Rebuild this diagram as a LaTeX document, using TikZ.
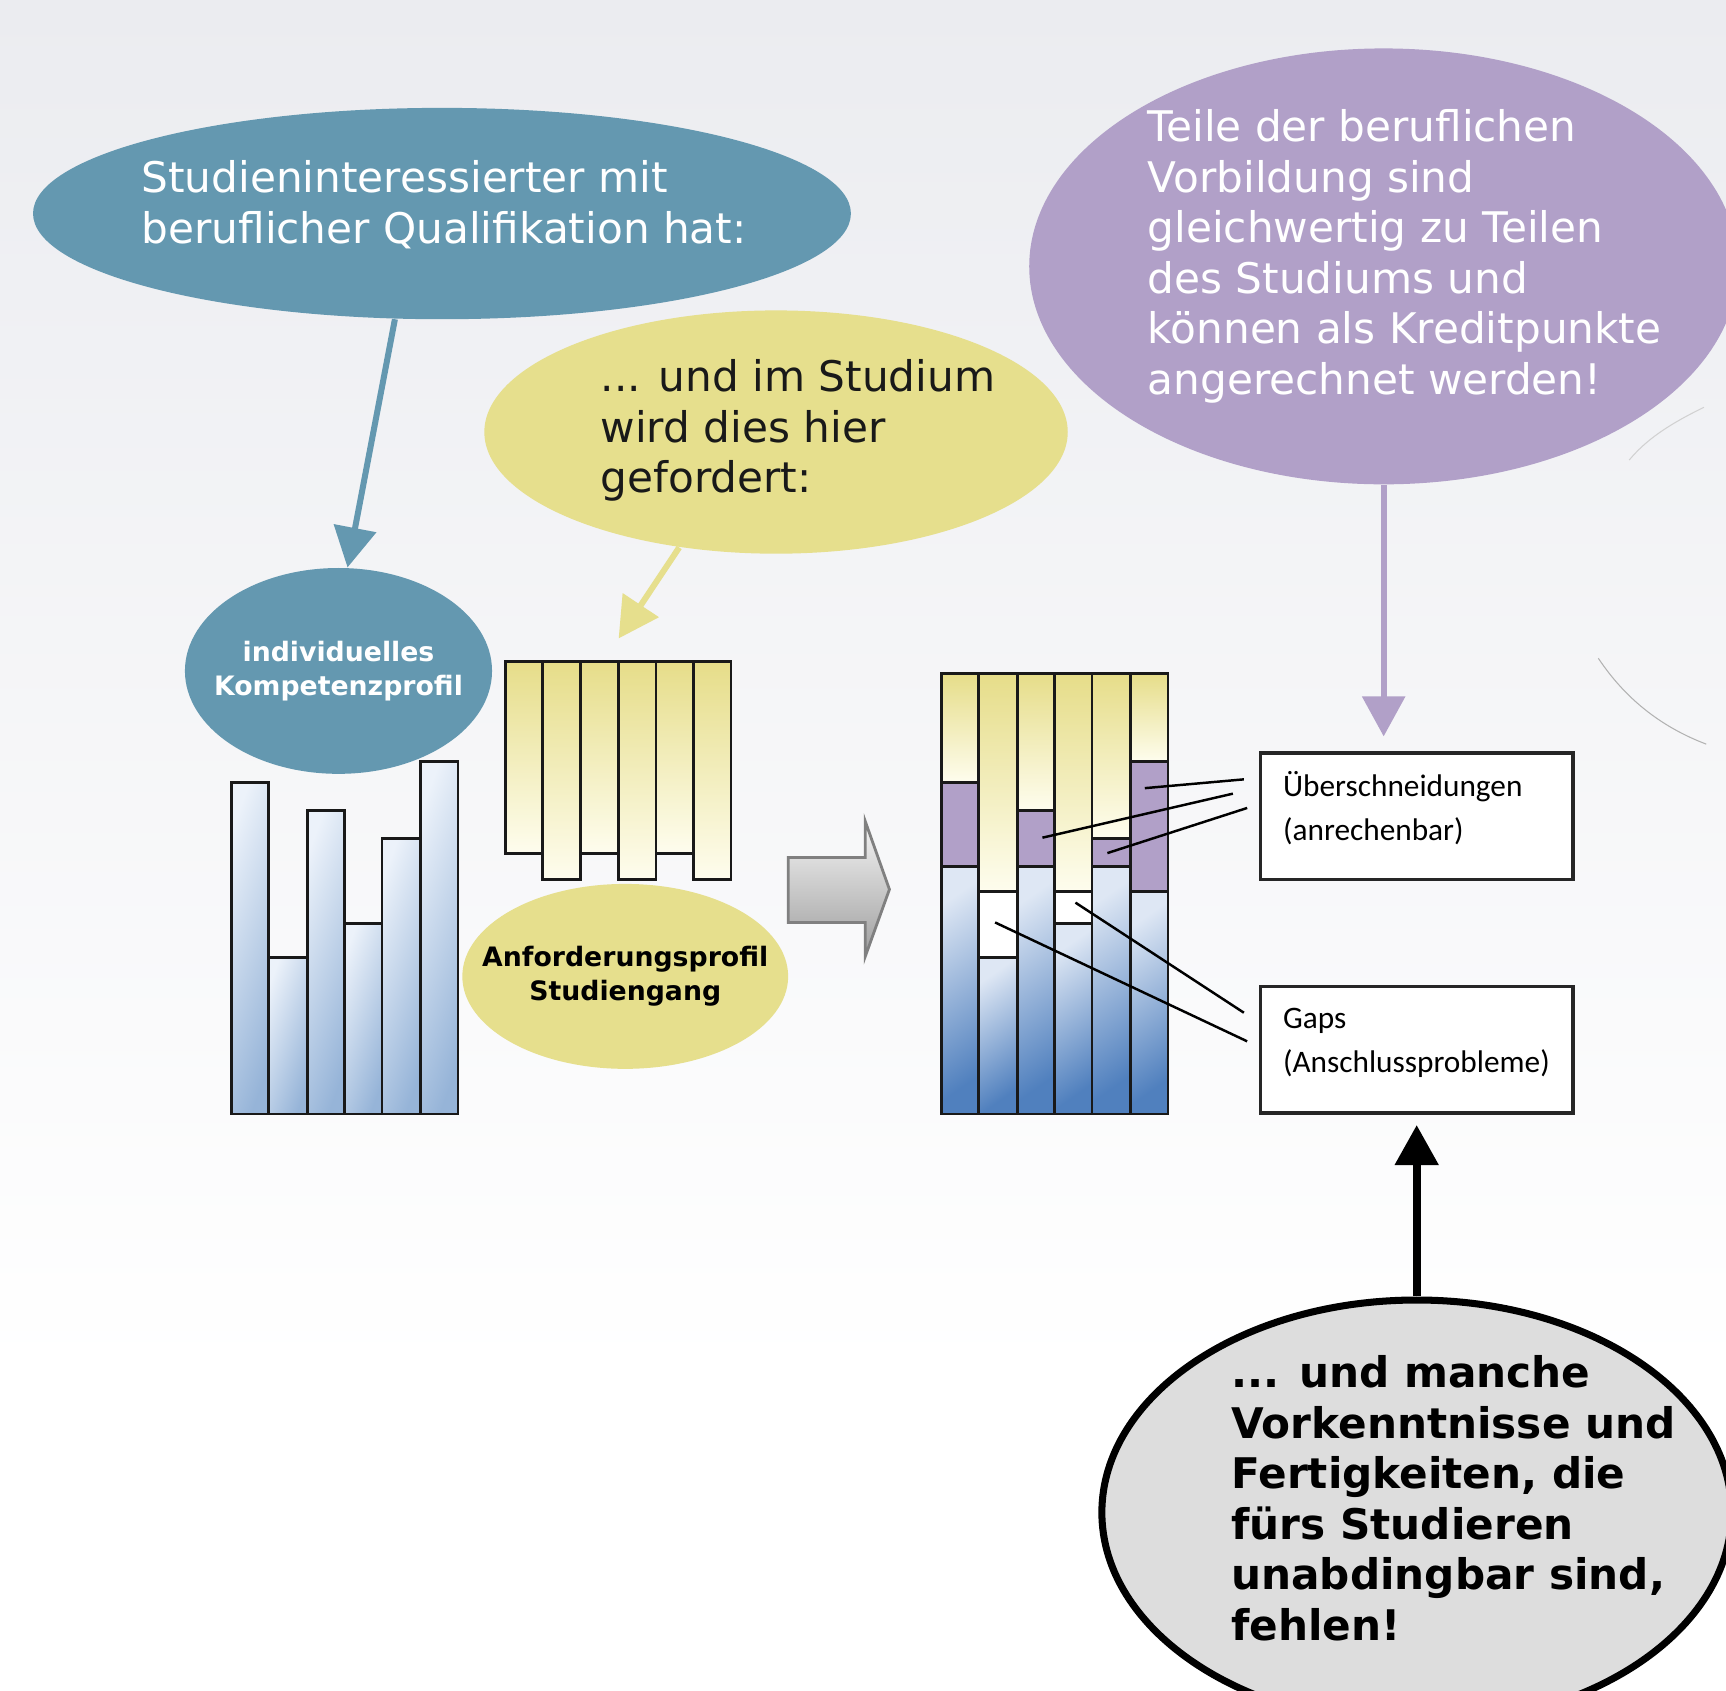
\documentclass[tikz,border=0pt]{standalone}
\usepackage{fontspec}
\setmainfont{DejaVu Sans}
\newfontfamily\carlito{Carlito}
\usetikzlibrary{shapes.geometric,arrows.meta,positioning}
\pgfdeclarelayer{bglayer}
\pgfdeclarelayer{edgelayer}
\pgfdeclarelayer{nodelayer}
\pgfsetlayers{bglayer,edgelayer,nodelayer,main}
\newcommand{\pxu}{0.011008cm}
\definecolor{qblue}{RGB}{100,152,176}
\definecolor{qyellow}{RGB}{230,223,141}
\definecolor{qpurple}{RGB}{177,160,200}
\definecolor{qgray}{RGB}{221,221,221}
\definecolor{bartop}{RGB}{230,221,137}
\definecolor{barlow}{RGB}{254,253,238}
\definecolor{blight}{RGB}{236,242,250}
\definecolor{bmid}{RGB}{150,180,216}
\definecolor{bpale}{RGB}{222,231,244}
\definecolor{bdark}{RGB}{80,128,190}
\tikzstyle{none}=[inner sep=0pt]
\tikzstyle{blob}=[ellipse,inner sep=0pt]
\tikzstyle{bigtxt}=[inner sep=0pt,align=left,font=\fontsize{12}{14.35}\selectfont]
\tikzstyle{boldtxt}=[inner sep=0pt,align=center,font=\fontsize{7.6}{9.7}\selectfont\bfseries]
\tikzstyle{boxtxt}=[inner sep=0pt,align=left,font=\carlito\fontsize{8.9}{12.5}\selectfont]
\tikzstyle{labelbox}=[draw=black!85,fill=white,line width=1pt,inner sep=0pt,minimum width=284*\pxu,minimum height=115*\pxu]
\tikzstyle{reqbar}=[draw=black!90,line width=0.8pt,top color=bartop,bottom color=barlow]
\tikzstyle{compbar}=[draw=black!90,line width=0.8pt,top color=blight,bottom color=bmid,shading angle=70]
\tikzstyle{darkbar}=[draw=black!90,line width=0.8pt,top color=bpale,bottom color=bdark,shading angle=35]
\tikzstyle{overlap}=[draw=black!90,line width=0.8pt,fill=qpurple]
\tikzstyle{gap}=[draw=black!90,line width=0.8pt,fill=white]
\tikzstyle{pointer}=[line width=0.7pt]
\tikzstyle{fat}=[line width=0.06cm,-{Triangle[width=0.42cm,length=0.40cm]}]

\begin{document}
\begin{tikzpicture}[x=\pxu,y=-\pxu]
	\useasboundingbox (0,0) rectangle (1568,1536);
	\begin{pgfonlayer}{bglayer}
		\fill [top color={rgb,255:red,235;green,236;blue,240},bottom color=white] (0,0) rectangle (1568,1250);
		\fill [white] (0,1249) rectangle (1568,1536);
	\end{pgfonlayer}
	\begin{pgfonlayer}{nodelayer}
		\node [style=blob,fill=qblue,minimum width=743*\pxu,minimum height=192*\pxu] (0) at (401.5,194) {};
		\node [style=blob,fill=qblue,minimum width=279*\pxu,minimum height=187*\pxu] (1) at (307.5,609.5) {};
		\node [style=blob,fill=qyellow,minimum width=530*\pxu,minimum height=221*\pxu] (2) at (705,392.5) {};
		\node [style=blob,fill=qpurple,minimum width=644*\pxu,minimum height=396*\pxu] (3) at (1257,242) {};
		\node [style=blob,fill=qyellow,minimum width=296*\pxu,minimum height=168*\pxu] (4) at (568,887) {};
		\node [style=blob,fill=qgray,draw=black,line width=2pt,minimum width=572*\pxu,minimum height=386*\pxu] (5) at (1287,1374) {};
		\node [style=labelbox] (6) at (1287,741.5) {};
		\node [style=labelbox] (7) at (1287,953.5) {};
		\node [style=bigtxt,text=white,anchor=west] (8) at (128,186) {Studieninteressierter mit\\beruflicher Qualifikation hat:};
		\node [style=bigtxt,text=black!90,anchor=west] (9) at (545,391) {... und im Studium\\wird dies hier\\gefordert:};
		\node [style=bigtxt,text=white,anchor=west] (10) at (1042,233) {Teile der beruflichen\\Vorbildung sind\\gleichwertig zu Teilen\\des Studiums und\\können als Kreditpunkte\\angerechnet werden!};
		\node [style=bigtxt,font=\fontsize{12}{14.35}\selectfont\bfseries,anchor=west] (11) at (1118,1361) {... und manche\\Vorkenntnisse und\\Fertigkeiten, die\\fürs Studieren\\unabdingbar sind,\\fehlen!};
		\node [style=boxtxt,anchor=west] (12) at (1165,734) {Überschneidungen\\(anrechenbar)};
		\node [style=boxtxt,anchor=west] (13) at (1165,947) {Gaps\\(Anschlussprobleme)};
		\node [style=boldtxt,text=white] (27) at (1) {individuelles\\Kompetenzprofil};
		\node [style=boldtxt,text=black] (28) at (4) {Anforderungsprofil\\Studiengang};
		\coordinate (14) at (562,580);
		\coordinate (15) at (1257,669);
		\coordinate (16) at (1287,1022);
		\coordinate (17) at (1130,708);
		\coordinate (18) at (1040,716);
		\coordinate (19) at (1120,721);
		\coordinate (20) at (947,761);
		\coordinate (21) at (1133,734);
		\coordinate (22) at (1006,775);
		\coordinate (23) at (1130,920);
		\coordinate (24) at (977,820);
		\coordinate (25) at (1133,946);
		\coordinate (26) at (904,838);
	\end{pgfonlayer}
	\begin{pgfonlayer}{edgelayer}
		% Kompetenzprofil
		\draw [style=compbar] (210,711) rectangle (244,1012);
		\draw [style=compbar] (244,870) rectangle (279,1012);
		\draw [style=compbar] (279,736) rectangle (313,1012);
		\draw [style=compbar] (313,839) rectangle (347,1012);
		\draw [style=compbar] (347,762) rectangle (382,1012);
		\draw [style=compbar] (382,692) rectangle (416,1012);
		% Anforderungsprofil
		\draw [style=reqbar] (459,601) rectangle (493,775);
		\draw [style=reqbar] (493,601) rectangle (527,799);
		\draw [style=reqbar] (527,601) rectangle (562,775);
		\draw [style=reqbar] (562,601) rectangle (596,799);
		\draw [style=reqbar] (596,601) rectangle (630,775);
		\draw [style=reqbar] (630,601) rectangle (664,799);
		% Vergleich
		\draw [style=reqbar] (855,612) rectangle (889,711);
		\draw [style=overlap] (855,711) rectangle (889,787);
		\draw [style=darkbar] (855,787) rectangle (889,1012);
		\draw [style=reqbar] (889,612) rectangle (924,810);
		\draw [style=gap] (889,810) rectangle (924,870);
		\draw [style=darkbar] (889,870) rectangle (924,1012);
		\draw [style=reqbar] (924,612) rectangle (958,736);
		\draw [style=overlap] (924,736) rectangle (958,787);
		\draw [style=darkbar] (924,787) rectangle (958,1012);
		\draw [style=reqbar] (958,612) rectangle (992,810);
		\draw [style=gap] (958,810) rectangle (992,839);
		\draw [style=darkbar] (958,839) rectangle (992,1012);
		\draw [style=reqbar] (992,612) rectangle (1027,762);
		\draw [style=overlap] (992,762) rectangle (1027,787);
		\draw [style=darkbar] (992,787) rectangle (1027,1012);
		\draw [style=reqbar] (1027,612) rectangle (1061,692);
		\draw [style=overlap] (1027,692) rectangle (1061,810);
		\draw [style=darkbar] (1027,810) rectangle (1061,1012);
		% Blockpfeil
		\draw [draw=black!50,line width=0.8pt,top color=black!4,bottom color=black!38] (716,779) -- (786,779) -- (786,746) -- (808,808) -- (786,869) -- (786,838) -- (716,838) -- cycle;
		% Zuordnungslinien
		\draw [style=pointer] (17) to (18);
		\draw [style=pointer] (19) to (20);
		\draw [style=pointer] (21) to (22);
		\draw [style=pointer] (23) to (24);
		\draw [style=pointer] (25) to (26);
		% Pfeile
		\draw [style=fat,qblue] (0.246) to (1.85);
		\draw [style=fat,qyellow] (2.230) to (14);
		\draw [style=fat,qpurple] (3.south) to (15);
		\draw [style=fat,black,line width=0.08cm] (5.north) to (16);
		% Randbogen
		\draw [black!18,line width=0.3pt] (1548,370) .. controls (1515,386) and (1495,400) .. (1480,418);
		\draw [black!30,line width=0.3pt] (1452,598) .. controls (1476,634) and (1508,660) .. (1550,676);
	\end{pgfonlayer}
\end{tikzpicture}
\end{document}
